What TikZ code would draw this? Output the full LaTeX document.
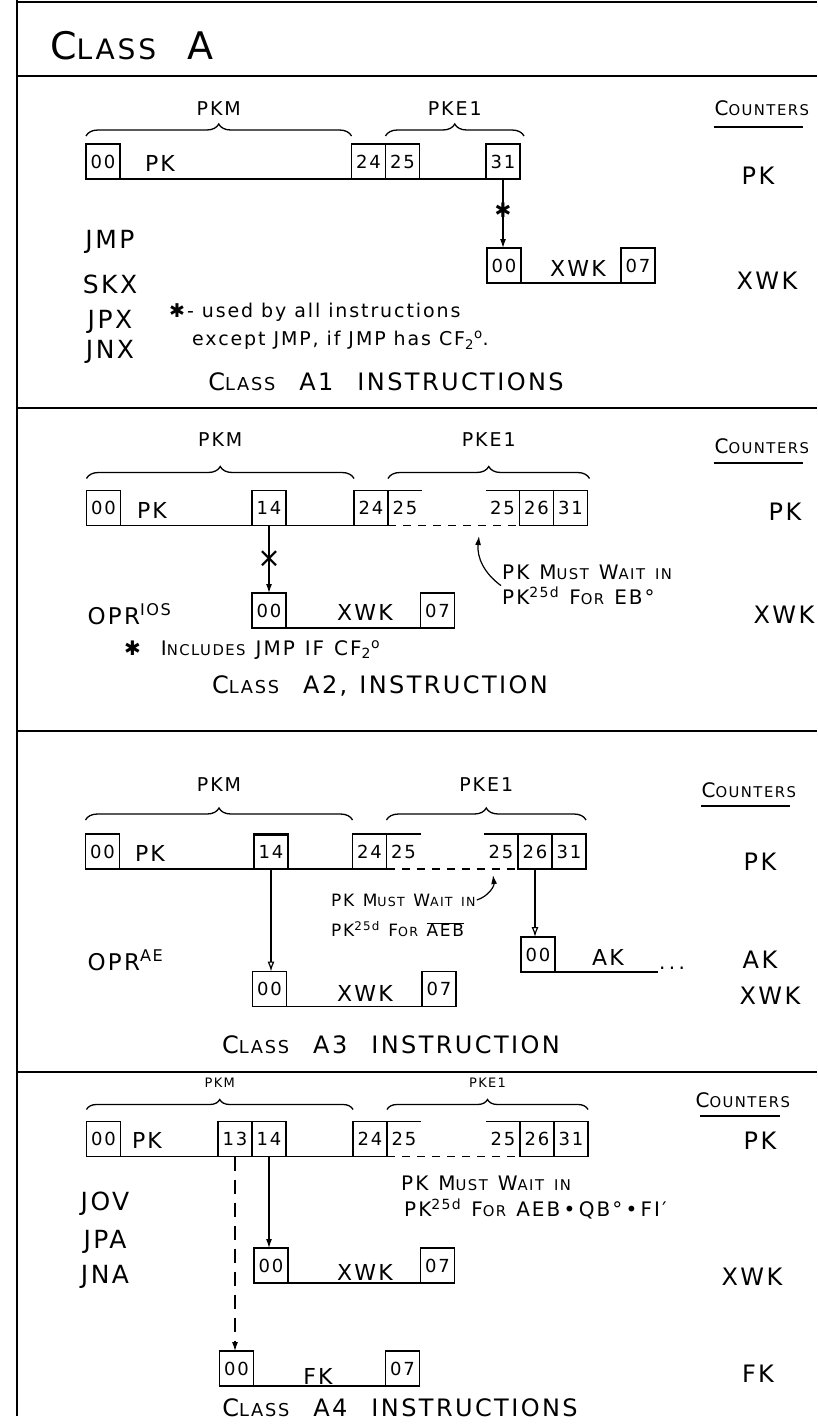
\documentclass[tikz,border=0pt]{standalone}
\usepackage{fontspec}
\setmainfont{DejaVu Sans}[LetterSpace=10]
\usetikzlibrary{calc, positioning, arrows.meta, decorations.pathreplacing}
\makeatletter
\newcommand{\lc}[1]{{\edef\lcsize{\fpeval{round(0.74*\f@size,2)}}\fontsize{\lcsize}{\lcsize}\selectfont #1}}
\makeatother
\newcommand{\fsz}[1]{\fontsize{#1}{#1}\selectfont}
\newcommand{\cfzero}{CF\textsubscript{2}\textsuperscript{o}}

\begin{document}
\begin{tikzpicture}[
    x=1pt, y=-1pt,
    cell/.style={draw, line width=1.4pt, minimum width=34pt, minimum height=35pt,
      inner sep=0pt, outer sep=0pt, font=\fsz{18}},
    halfcell/.style={cell, draw=none},
    reglabel/.style={font=\fsz{22}},
    counter/.style={font=\fsz{24}},
    countershead/.style={font=\fsz{20}, anchor=west},
    oplabel/.style={font=\fsz{25}},
    caption/.style={font=\fsz{24}},
    note/.style={font=\fsz{#1}, anchor=west, inner sep=1pt},
    note/.default=19,
    field/.style={decorate, decoration={brace, amplitude=#1}, line width=1.3pt},
    field/.default=12pt,
    fieldlabel/.style={midway, above=#1, font=\fsz{19}},
    fieldlabel/.default=17pt,
    regline/.style={line width=1.4pt},
    waitline/.style={line width=1.4pt, dash pattern=on 8pt off 7pt},
    divider/.style={line width=2.4pt},
    xfer/.style={line width=1.2pt, -{Latex[length=9pt, width=6pt]}},
    openxfer/.style={line width=1.2pt, -{Latex[open, length=10pt, width=7pt]}},
  ]
  \useasboundingbox (0,0) rectangle (817,1427);
  \draw[divider] (17,2) -- (817,2);
  \draw[divider] (17,0) -- (17,1416);
  \draw[divider] (17,76) -- (817,76);
  \draw[divider] (17,408) -- (817,408);
  \draw[divider] (17,731) -- (817,731);
  \draw[divider] (17,1072) -- (817,1072);
  \node[font=\fsz{38}] (classa) at (132,46) {C\lc{LASS}\ \ A};

  \node[cell] (s1b00) at (103,161.5) {00};
  \node[reglabel] (s1pk) at (160,163) {PK};
  \node[cell] (s1b24) at (368.5,161.5) {24};
  \node[cell, right=0pt of s1b24] (s1b25) {25};
  \node[cell] (s1b31) at (503,161.5) {31};
  \draw[regline] (s1b00.south west) -- (s1b31.south east);
  \draw[field] ($(s1b00.north west)+(0,-8)$) -- ($(s1b24.north west)+(0,-8)$) node[fieldlabel] {PKM};
  \draw[field] ($(s1b25.north west)+(0,-8)$) -- ($(s1b31.north east)+(4,-8)$) node[fieldlabel] {PKE1};
  \node[countershead] (s1cnt) at (711,108) {C\lc{OUNTERS}};
  \draw[regline] ($(s1cnt.south west)+(3,8)$) -- ($(s1cnt.south east)+(-10,8)$);
  \node[counter] (s1cpk) at (758,176) {PK};
  \node[cell] (s1x00) at (504,265.5) {00};
  \node[reglabel] (s1xwk) at (578,268) {XWK};
  \node[cell] (s1x07) at (638,265.5) {07};
  \draw[regline] (s1x00.south west) -- (s1x07.south east);
  \node[counter] (s1cxwk) at (767,281) {XWK};
  \draw[xfer] (s1b31.south) -- (s1b31.south |- s1x00.north) node[pos=0.45, font=\fsz{20}] {✱};
  \node[oplabel] (s1jmp) at (110,242) {JMP};
  \node[oplabel] (s1skx) at (110,284) {SKX};
  \node[oplabel] (s1jpx) at (110,322) {JPX};
  \node[oplabel] (s1jnx) at (110,352) {JNX};
  \node[note] (s1nota) at (168,312) {✱- used by all instructions};
  \node[note] (s1notb) at (191,340) {except JMP, if JMP has \cfzero.};
  \node[caption] (s1name) at (386,382) {C\lc{LASS}\quad A1\quad INSTRUCTIONS};

  \node[cell] (s2b00) at (103.5,508) {00};
  \node[reglabel] (s2pk) at (152,510) {PK};
  \node[cell] (s2b14) at (269,508) {14};
  \node[cell] (s2b24) at (371,508) {24};
  \node[halfcell, right=0pt of s2b24] (s2b25a) {25};
  \node[halfcell] (s2b25b) at (502.5,508) {25};
  \node[cell, right=0pt of s2b25b] (s2b26) {26};
  \node[cell, right=0pt of s2b26] (s2b31) {31};
  \draw[regline] (s2b00.south west) -- (s2b24.south east);
  \draw[regline] (s2b24.north east) -- (s2b25a.north east);
  \draw[regline] (s2b25b.north west) -- (s2b26.north west);
  \draw[waitline] (s2b24.south east) -- (s2b26.south west);
  \draw[field] ($(s2b00.north west)+(0,-12)$) -- ($(s2b24.north west)+(0,-12)$) node[fieldlabel=28pt] {PKM};
  \draw[field] ($(s2b25a.north west)+(0,-12)$) -- ($(s2b31.north east)+(2,-12)$) node[fieldlabel=28pt] {PKE1};
  \node[countershead] (s2cnt) at (711,446) {C\lc{OUNTERS}};
  \draw[regline] ($(s2cnt.south west)+(3,6)$) -- ($(s2cnt.south east)+(-10,6)$);
  \node[counter] (s2cpk) at (785,512) {PK};
  \node[cell] (s2x00) at (269,610.5) {00};
  \node[reglabel] (s2xwk) at (365,612) {XWK};
  \node[cell] (s2x07) at (437.5,610.5) {07};
  \draw[regline] (s2x00.south west) -- (s2x07.south east);
  \node[counter] (s2cxwk) at (784,615) {XWK};
  \draw[xfer] (s2b14.south) -- (s2x00.north) node[pos=0.5, font=\fsz{28}] {×};
  \node[oplabel, anchor=west, font=\fsz{23}] (s2opr) at (84,614) {OPR\textsuperscript{IOS}};
  \node[note=20] (s2waita) at (501,572) {PK\enspace M\lc{UST}\enspace W\lc{AIT}\enspace\lc{IN}};
  \node[note=20] (s2waitb) at (501,596) {PK\textsuperscript{25d}\enspace F\lc{OR}\enspace EB°};
  \coordinate (s2gap) at (479,536);
  \draw[xfer] (s2waitb.north west) to[bend left=30] (s2gap);
  \node[note=20] (s2note) at (123,650) {✱\quad I\lc{NCLUDES}\enspace JMP\enspace IF\enspace \cfzero};
  \node[caption] (s2name) at (380,686) {C\lc{LASS}\quad A2,\enspace INSTRUCTION};

  \node[cell] (s3b00) at (102.5,851.5) {00};
  \node[reglabel] (s3pk) at (150,853) {PK};
  \node[cell] (s3b14) at (271,851.5) {14};
  \draw[line width=3pt] (s3b14.north west) -- (s3b14.north east);
  \node[cell] (s3b24) at (369.5,851.5) {24};
  \node[halfcell, right=0pt of s3b24] (s3b25a) {25};
  \node[halfcell] (s3b25b) at (501,851.5) {25};
  \node[cell, right=0pt of s3b25b] (s3b26) {26};
  \node[cell, right=0pt of s3b26] (s3b31) {31};
  \draw[regline] (s3b00.south west) -- (s3b24.south east);
  \draw[regline] (s3b24.north east) -- (s3b25a.north east);
  \draw[regline] (s3b25b.north west) -- (s3b26.north west);
  \draw[waitline] (s3b24.south east) -- (s3b26.south west);
  \draw[field] ($(s3b00.north west)+(0,-14)$) -- ($(s3b24.north west)+(0,-14)$) node[fieldlabel=25pt] {PKM};
  \draw[field] ($(s3b25a.north west)+(0,-14)$) -- ($(s3b31.north east)+(0,-14)$) node[fieldlabel=25pt] {PKE1};
  \node[countershead] (s3cnt) at (698,790) {C\lc{OUNTERS}};
  \draw[regline] ($(s3cnt.south west)+(3,5)$) -- ($(s3cnt.south east)+(-10,5)$);
  \node[counter] (s3cpk) at (760,862) {PK};
  \node[cell] (s3a00) at (538,954.5) {00};
  \node[reglabel] (s3ak) at (608,957) {AK};
  \node[font=\fsz{20}, anchor=west, inner sep=1pt] (s3dots) at (658,968) {.\,.\,.};
  \draw[regline] (s3a00.south west) -- (s3a00.south west -| s3dots.west);
  \node[counter] (s3cak) at (760,960) {AK};
  \node[cell] (s3x00) at (269.5,989) {00};
  \node[reglabel] (s3xwk) at (365,993) {XWK};
  \node[cell] (s3x07) at (439,989) {07};
  \draw[regline] (s3x00.south west) -- (s3x07.south east);
  \node[counter] (s3cxwk) at (770,996) {XWK};
  \draw[openxfer] (s3b14.south) -- (s3b14.south |- s3x00.north);
  \draw[openxfer] (s3b26.south) -- (s3b26.south |- s3a00.north);
  \node[oplabel, anchor=west, font=\fsz{23}] (s3opr) at (84,960) {OPR\textsuperscript{AE}};
  \node[note=17] (s3waita) at (330,900) {PK\enspace M\lc{UST}\enspace W\lc{AIT}\enspace\lc{IN}};
  \node[note=17] (s3waitb) at (330,929) {PK\textsuperscript{25d}\enspace F\lc{OR}\enspace $\overline{\hbox{AEB}}$};
  \coordinate (s3gap) at (493,875);
  \draw[xfer] (s3waita.east) to[bend right=40] (s3gap);
  \node[caption] (s3name) at (391,1045) {C\lc{LASS}\quad A3\quad INSTRUCTION};

  \node[cell] (s4b00) at (103.5,1139) {00};
  \node[reglabel] (s4pk) at (147,1140) {PK};
  \node[cell] (s4b13) at (235,1139) {13};
  \node[cell, right=0pt of s4b13] (s4b14) {14};
  \node[cell] (s4b24) at (370,1139) {24};
  \node[halfcell, right=0pt of s4b24] (s4b25a) {25};
  \node[halfcell] (s4b25b) at (503,1139) {25};
  \node[cell, right=0pt of s4b25b] (s4b26) {26};
  \node[cell, right=0pt of s4b26] (s4b31) {31};
  \draw[regline] (s4b00.south west) -- (s4b24.south east);
  \draw[regline] (s4b24.north east) -- (s4b25a.north east);
  \draw[regline] (s4b25b.north west) -- (s4b26.north west);
  \draw[waitline] (s4b24.south east) -- (s4b26.south west);
  \draw[field=10pt] ($(s4b00.north west)+(0,-12)$) -- ($(s4b24.north west)+(0,-12)$) node[fieldlabel=18pt, font=\fsz{13}] {PKM};
  \draw[field=10pt] ($(s4b25a.north west)+(0,-12)$) -- ($(s4b31.north east)+(0,-12)$) node[fieldlabel=18pt, font=\fsz{13}] {PKE1};
  \node[countershead] (s4cnt) at (692,1100) {C\lc{OUNTERS}};
  \draw[regline] ($(s4cnt.south west)+(8,5)$) -- ($(s4cnt.south east)+(-14,5)$);
  \node[counter] (s4cpk) at (760,1141) {PK};
  \node[oplabel] (s4jov) at (105,1204) {JOV};
  \node[oplabel] (s4jpa) at (105,1242) {JPA};
  \node[oplabel] (s4jna) at (105,1277) {JNA};
  \node[note=20] (s4waita) at (400,1183) {PK\enspace M\lc{UST}\enspace W\lc{AIT}\enspace\lc{IN}};
  \node[note=20] (s4waitb) at (403,1209) {PK\textsuperscript{25d}\enspace F\lc{OR}\enspace AEB\,•\,QB°\,•\,FI′};
  \node[cell] (s4x00) at (271,1265.5) {00};
  \node[reglabel] (s4xwk) at (365,1272) {XWK};
  \node[cell] (s4x07) at (437.5,1265.5) {07};
  \draw[regline] (s4x00.south west) -- (s4x07.south east);
  \node[counter] (s4cxwk) at (752,1277) {XWK};
  \node[cell] (s4f00) at (236.5,1368.5) {00};
  \node[reglabel] (s4fk) at (318,1376) {FK};
  \node[cell] (s4f07) at (402.5,1368.5) {07};
  \draw[regline] (s4f00.south west) -- (s4f07.south east);
  \node[counter] (s4cfk) at (758,1374) {FK};
  \draw[xfer] (s4b14.south) -- (s4b14.south |- s4x00.north);
  \draw[xfer, dash pattern=on 14pt off 9pt] (s4b13.south) -- (s4b13.south |- s4f00.north);
  \node[caption] (s4name) at (400,1408) {C\lc{LASS}\quad A4\quad INSTRUCTIONS};
\end{tikzpicture}
\end{document}
